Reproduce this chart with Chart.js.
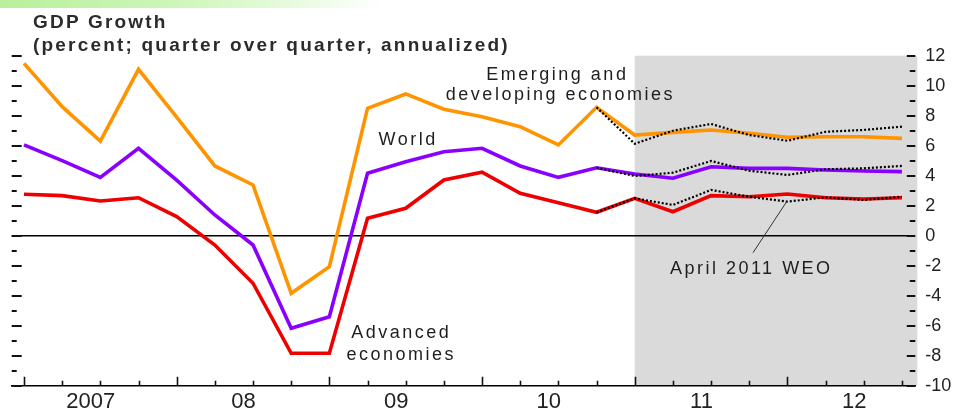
<!DOCTYPE html>
<html><head><meta charset="utf-8">
<script src="https://cdn.jsdelivr.net/npm/chart.js@4"></script>
<style>
html,body{margin:0;padding:0;background:#fff;}
#wrap{position:relative;width:957px;height:410px;overflow:hidden;}
#band{position:absolute;left:0;top:0;width:957px;height:8px;background:linear-gradient(to right,#b8f09c 0%,#cdf6b8 18%,#e6fbdc 30%,#ffffff 40%);}
#title{position:absolute;left:33px;top:10px;font:bold 19px "Liberation Sans",Arial,sans-serif;letter-spacing:2.2px;line-height:23.4px;color:#2b2b2b;white-space:nowrap;}
canvas{position:absolute;left:0;top:0;}
</style></head>
<body><div id="wrap"><canvas id="c" width="957" height="410"></canvas><div id="band"></div><div id="title">GDP Growth<br>(percent; quarter over quarter, annualized)</div></div>
<script>
const quarters = ['2007Q1','2007Q2','2007Q3','2007Q4','2008Q1','2008Q2','2008Q3','2008Q4',
  '2009Q1','2009Q2','2009Q3','2009Q4','2010Q1','2010Q2','2010Q3','2010Q4',
  '2011Q1','2011Q2','2011Q3','2011Q4','2012Q1','2012Q2','2012Q3','2012Q4'];
const yearLabels = ['2007','08','09','10','11','12'];
const yTicks = [-10,-8,-6,-4,-2,0,2,4,6,8,10,12];

const emerging = [11.49,8.6,6.31,11.09,7.9,4.65,3.38,-3.84,-2.07,8.49,9.45,8.43,7.93,7.27,6.05,8.56,6.71,6.89,7.05,6.83,6.56,6.6,6.6,6.49];
const world    = [6.05,5.0,3.89,5.83,3.71,1.38,-0.62,-6.17,-5.4,4.16,4.93,5.6,5.83,4.65,3.89,4.53,4.11,3.83,4.6,4.49,4.49,4.38,4.31,4.27];
const advanced = [2.76,2.67,2.31,2.53,1.27,-0.62,-3.17,-7.84,-7.84,1.16,1.83,3.71,4.23,2.83,2.2,1.56,2.49,1.6,2.67,2.6,2.78,2.53,2.45,2.53];
const emergingWEO = [null,null,null,null,null,null,null,null,null,null,null,null,null,null,null,8.56,6.13,7.0,7.45,6.71,6.33,6.93,7.05,7.27];
const worldWEO    = [null,null,null,null,null,null,null,null,null,null,null,null,null,null,null,4.53,3.98,4.2,4.98,4.33,4.05,4.43,4.49,4.65];
const advancedWEO = [null,null,null,null,null,null,null,null,null,null,null,null,null,null,null,1.56,2.49,2.05,3.05,2.6,2.27,2.56,2.38,2.6];
const projectionStart = '2011Q1';

const FONT = '"Liberation Sans", Arial, sans-serif';
Chart.defaults.font.family = FONT;

const toXY = arr => arr.map((v,i) => ({x:i, y:v}));
const line = (label, arr, color, width, dash) => ({
  label, data: toXY(arr), borderColor: color, borderWidth: width, borderDash: dash || [],
  pointRadius: 0, tension: 0, fill: false, spanGaps: false
});

const notes = [
  {text:'Emerging and', x:13.94, y:10.41},
  {text:'developing economies', x:14.02, y:9.08},
  {text:'World', x:10.03, y:6.05},
  {text:'Advanced', x:9.85, y:-6.84},
  {text:'economies', x:9.85, y:-8.29},
  {text:'April 2011 WEO', x:19.02, y:-2.55}
];
const leader = [{x:19.1, y:-1.13},{x:19.98, y:2.27}];

const shade = {
  id:'shade',
  beforeDraw(chart){
    const {ctx, chartArea:a, scales:{x}} = chart;
    const x0 = x.getPixelForValue(quarters.indexOf(projectionStart));
    ctx.save(); ctx.fillStyle = '#dadada';
    ctx.fillRect(x0, a.top, a.right + 2 - x0, a.bottom - a.top);
    ctx.restore();
  }
};

const tickMarks = {
  id:'tickMarks',
  afterDraw(chart){
    const {ctx, chartArea:a, scales:{x,y}} = chart;
    ctx.save(); ctx.strokeStyle = '#111'; ctx.lineWidth = 2; ctx.beginPath();
    for (let v = y.min; v <= y.max; v++) {
      const py = Math.round(y.getPixelForValue(v));
      const major = v % 2 === 0;
      ctx.moveTo(a.left, py); ctx.lineTo(a.left + (major ? 10 : 5), py);
      ctx.moveTo(a.right, py); ctx.lineTo(a.right - (major ? 8.5 : 5.5), py);
    }
    ctx.stroke();
    ctx.lineWidth = 1.6; ctx.beginPath();
    quarters.forEach((q,i) => {
      const px = Math.round(x.getPixelForValue(i)) + 0.5;
      ctx.moveTo(px, a.bottom); ctx.lineTo(px, a.bottom - (i % 4 === 0 ? 9 : 5));
    });
    ctx.stroke();
    ctx.restore();
  }
};

const annot = {
  id:'annot',
  afterDatasetsDraw(chart){
    const {ctx, scales:{x,y}} = chart;
    ctx.save();
    ctx.strokeStyle = '#333'; ctx.lineWidth = 1;
    ctx.beginPath();
    ctx.moveTo(x.getPixelForValue(leader[0].x), y.getPixelForValue(leader[0].y));
    ctx.lineTo(x.getPixelForValue(leader[1].x), y.getPixelForValue(leader[1].y));
    ctx.stroke();
    ctx.font = '18px ' + FONT;
    ctx.letterSpacing = '2.5px';
    ctx.fillStyle = '#1e1e1e'; ctx.textAlign = 'center'; ctx.textBaseline = 'alphabetic';
    notes.forEach(n => ctx.fillText(n.text, x.getPixelForValue(n.x) + 1.25, y.getPixelForValue(n.y)));
    ctx.restore();
  }
};

new Chart(document.getElementById('c'), {
  type:'line',
  data:{ datasets:[
    line('Emerging and developing economies (April 2011 WEO)', emergingWEO, '#000', 2.2, [2,2]),
    line('World (April 2011 WEO)', worldWEO, '#000', 2.2, [2,2]),
    line('Advanced economies (April 2011 WEO)', advancedWEO, '#000', 2.2, [2,2]),
    line('Emerging and developing economies', emerging, '#ff9400', 3.6),
    line('World', world, '#8a00ff', 3.6),
    line('Advanced economies', advanced, '#ee0000', 3.6)
  ]},
  options:{
    responsive:false, animation:false, devicePixelRatio:1,
    layout:{padding:{left:11.7, top:55.7, right:0, bottom:0}},
    plugins:{legend:{display:false}, tooltip:{enabled:false}, title:{display:false}},
    scales:{
      x:{type:'linear', min:-0.322, max:23.35,
        grid:{display:true, color:'transparent', drawTicks:false},
        border:{display:true, color:'#000', width:1.5},
        afterBuildTicks: s => { s.ticks = yearLabels.map((l,k) => ({value: quarters.indexOf('20' + (k + 7 < 10 ? '0' : '') + (k + 7) + 'Q1') + 1.75})); },
        afterFit: s => { s.height = 24.3; },
        ticks:{autoSkip:false, maxRotation:0, padding:3, color:'#222', font:{size:22},
          callback:(v, i) => yearLabels[i]}
      },
      y:{position:'right', min:-10, max:12,
        afterBuildTicks: s => { s.ticks = yTicks.map(v => ({value:v})); },
        afterFit: s => { s.width = 41.7; },
        grid:{drawTicks:false, lineWidth:1.5, color: c => (c.tick && c.tick.value === 0) ? '#000' : 'transparent'},
        border:{display:false},
        ticks:{padding:10, color:'#222', font:{size:18}, callback: v => String(v)}
      }
    }
  },
  plugins:[shade, tickMarks, annot]
});
</script>
</body></html>
